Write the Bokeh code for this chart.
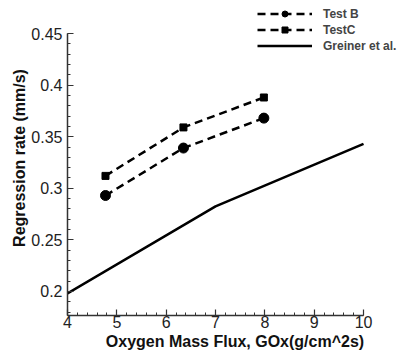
from bokeh.plotting import figure
from bokeh.models import Range1d, Legend, LegendItem, FixedTicker
from bokeh.embed import file_html
from bokeh.resources import INLINE

test_b_x = [4.77, 6.35, 7.98]
test_b_y = [0.293, 0.339, 0.368]
test_c_x = [4.77, 6.35, 7.98]
test_c_y = [0.312, 0.359, 0.388]
greiner_x = [4.0, 7.0, 10.0]
greiner_y = [0.198, 0.2825, 0.343]

x_ticks = [4, 5, 6, 7, 8, 9, 10]
y_ticks = [0.2, 0.25, 0.3, 0.35, 0.4, 0.45]

# frame extends past the axes so the legend (above/right of the axes) is not clipped
p = figure(width=402, height=357, output_backend="svg", toolbar_location=None,
           x_range=Range1d(4, 10.79), y_range=Range1d(0.1767, 0.482),
           min_border_left=67, min_border_right=0, min_border_top=0, min_border_bottom=42)
p.outline_line_color = None
p.grid.visible = False
p.background_fill_color = "white"

FONT = "Liberation Sans"
for ax in (p.xaxis[0], p.yaxis[0]):
    ax.axis_line_width = 1.5
    ax.axis_line_color = "#333333"
    ax.major_tick_in = 6
    ax.major_tick_out = 0
    ax.minor_tick_in = 3
    ax.minor_tick_out = 0
    ax.major_tick_line_color = "#333333"
    ax.minor_tick_line_color = "#333333"
    ax.major_tick_line_width = 1.2
    ax.major_label_text_font = FONT
    ax.major_label_text_font_size = "16px"
    ax.major_label_text_color = "#222222"
    ax.axis_label_text_font = FONT
    ax.axis_label_text_font_style = "bold"
    ax.axis_label_text_font_size = "16px"
    ax.axis_label_text_color = "#111111"

p.xaxis.bounds = (4, 10)
p.yaxis.bounds = (0.1767, 0.45)
p.xaxis.ticker = FixedTicker(ticks=x_ticks, minor_ticks=[4 + 0.2 * i for i in range(31)])
p.yaxis.ticker = FixedTicker(ticks=y_ticks, minor_ticks=[0.18 + 0.01 * i for i in range(28)])
p.xaxis.axis_label = "Oxygen Mass Flux, GOx(g/cm^2s)"
p.yaxis.axis_label = "Regression rate (mm/s)"
p.xaxis.major_label_standoff = 0
p.yaxis.major_label_standoff = 5
p.xaxis.axis_label_standoff = 2
p.yaxis.axis_label_standoff = 0

lb = p.line(test_b_x, test_b_y, line_color="black", line_width=2.5, line_dash="8 5")
sb = p.scatter(test_b_x, test_b_y, marker="circle", size=10, color="black")
lc = p.line(test_c_x, test_c_y, line_color="black", line_width=2.5, line_dash="8 5")
sc = p.scatter(test_c_x, test_c_y, marker="square", size=7, color="black")
lg = p.line(greiner_x, greiner_y, line_color="black", line_width=2.5)

legend = Legend(items=[
    LegendItem(label="Test B", renderers=[lb, sb]),
    LegendItem(label="TestC", renderers=[lc, sc]),
    LegendItem(label="Greiner et al.", renderers=[lg]),
], location=(190, 262))
legend.background_fill_alpha = 0
legend.border_line_color = None
legend.label_text_font = FONT
legend.label_text_font_style = "bold"
legend.label_text_font_size = "12px"
legend.glyph_width = 55
legend.glyph_height = 15
legend.label_height = 15
legend.spacing = 1
legend.padding = 0
legend.margin = 0
legend.label_standoff = 11
p.add_layout(legend, "center")

open("out.html", "w").write(file_html(p, INLINE))
